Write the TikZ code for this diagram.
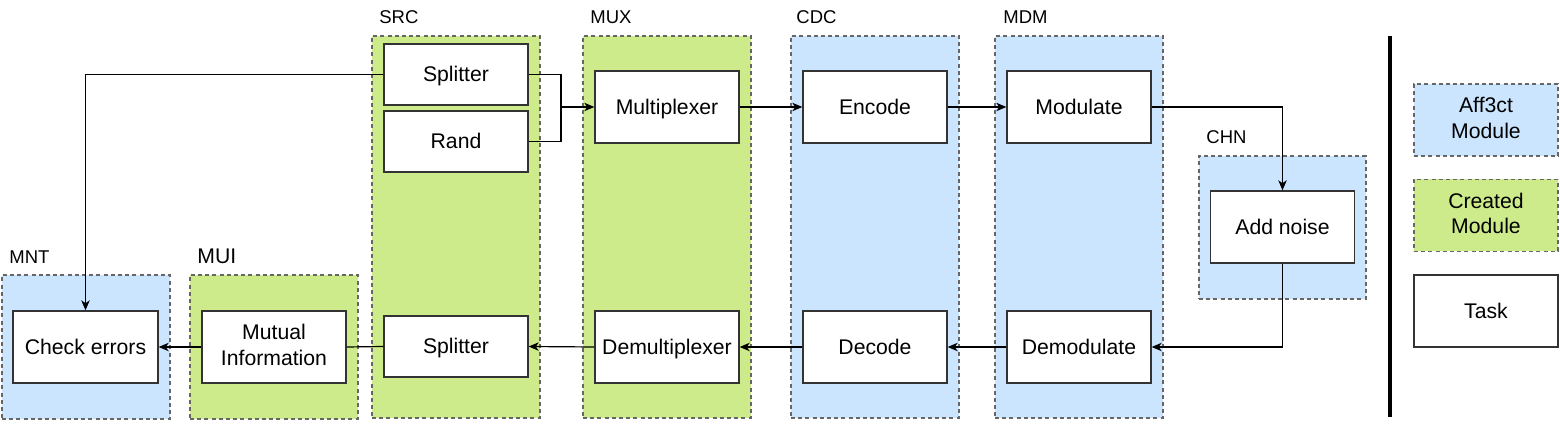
\documentclass[tikz,border=0pt]{standalone}
\usepackage{fontspec}
\setmainfont{Liberation Sans}
\usepackage{tikz}
\usetikzlibrary{arrows.meta, positioning, calc}

\definecolor{affblue}{HTML}{CCE5FF}
\definecolor{crtgreen}{HTML}{CDEB8B}
\definecolor{dashgray}{HTML}{666666}
\definecolor{taskline}{HTML}{333333}

\newcommand{\lnup}{\rule{0pt}{9.6pt}}
\newcommand{\lndn}{\rule[-2.25pt]{0pt}{2.25pt}}

\begin{document}
\begin{tikzpicture}[x=0.5pt, y=-0.5pt,
    >={Stealth[length=5pt, width=4.2pt, inset=1.4pt]},
    every node/.style={font=\fontsize{10.6}{12.7}\selectfont, align=center, inner sep=0pt},
    module/.style={draw=dashgray, line width=0.6pt, dash pattern=on 2pt off 1.6pt, minimum width=84pt},
    affmod/.style={module, fill=affblue},
    crtmod/.style={module, fill=crtgreen},
    boxtext/.style={execute at begin node=\lnup, execute at end node=\lndn},
    task/.style={boxtext, draw=taskline, fill=white, line width=0.65pt, minimum width=72pt, minimum height=36pt},
    lbl/.style={anchor=base west, font=\fontsize{9.25}{11}\selectfont},
    link/.style={line width=0.6pt}]

\useasboundingbox (0,0) rectangle (1560,427);

% Draw the module containers
\node[affmod, minimum height=72pt] (mnt) at (86,347) {};
\node[crtmod, minimum height=72pt] (mui) at (274,347) {};
\node[crtmod, minimum height=191pt] (src) at (456,227) {};
\node[crtmod, minimum height=191pt] (mux) at (667,227) {};
\node[affmod, minimum height=191pt] (cdc) at (875,227) {};
\node[affmod, minimum height=191pt] (mdm) at (1079,227) {};
\node[affmod, minimum height=71.5pt, minimum width=83.5pt] (chn) at (1282.5,227.5) {};

% Module names
\node[lbl] (mntname) at (9,264) {MNT};
\node[lbl, font=\fontsize{10.6}{12.7}\selectfont] (muiname) at (197,264) {MUI};
\node[lbl] (srcname) at (379,24) {SRC};
\node[lbl] (muxname) at (590,24) {MUX};
\node[lbl] (cdcname) at (796,24) {CDC};
\node[lbl] (mdmname) at (1003,24) {MDM};
\node[lbl] (chnname) at (1206,144) {CHN};

% Draw the tasks
\node[task, minimum width=72.5pt] (chk) at (85.5,347) {Check errors};
\node[task] (mi) at (274,347) {Mutual\\Information};
\node[task, minimum height=30.5pt] (splt) at (456,74.5) {Splitter};
\node[task, minimum height=30.5pt] (rand) at (456,141.5) {Rand};
\node[task, minimum height=30.5pt] (splb) at (456,346.5) {Splitter};
\node[task] (mplx) at (667,107) {Multiplexer};
\node[task] (dmplx) at (667,347) {Demultiplexer};
\node[task] (enc) at (875,107) {Encode};
\node[task] (dec) at (875,347) {Decode};
\node[task] (mdl) at (1079,107) {Modulate};
\node[task] (dmdl) at (1079,347) {Demodulate};
\node[task] (noise) at (1282.5,227) {Add noise};

% Legend
\draw[line width=1.75pt] (1390,36) -- (1390,417);
\node[affmod, boxtext, minimum width=72pt, minimum height=36pt] (legaff) at (1486,120) {Aff3ct\\Module};
\node[crtmod, boxtext, minimum width=72pt, minimum height=36pt] (legcrt) at (1486,215.5) {Created\\Module};
\node[task] (legtask) at (1486,311) {Task};

% Draw the links
\coordinate (join) at (561,107);
\draw[link] (splt.east) -| (join);
\draw[link] (rand.east) -| (join);
\draw[link, ->] (join) -- (mplx.west);
\draw[link, ->] (mplx.east) -- (enc.west);
\draw[link, ->] (enc.east) -- (mdl.west);
\draw[link, ->] (mdl.east) -| (noise.north);
\draw[link, ->] (noise.south) |- (dmdl.east);
\draw[link, ->] (dmdl.west) -- (dec.east);
\draw[link, ->] (dec.west) -- (dmplx.east);
\draw[link, ->] (dmplx.west) -- (splb.east);
\draw[link] (splb.west) -- (mi.east);
\draw[link, ->] (mi.west) -- (chk.east);
\draw[link, ->] (splt.west) -| (chk.north);

\end{tikzpicture}
\end{document}
